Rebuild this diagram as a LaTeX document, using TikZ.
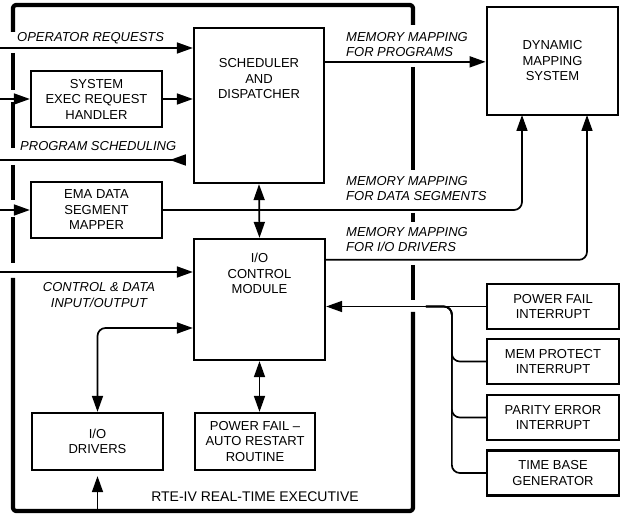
\documentclass[tikz,border=0pt]{standalone}
\usepackage{fontspec}
\setmainfont{Liberation Sans}
\usetikzlibrary{arrows.meta,calc}

\begin{document}
\begin{tikzpicture}[x=1pt,y=-1pt,
  font=\fontsize{13}{15.5}\selectfont,
  box/.style={draw, line width=2.3pt, inner sep=0pt, align=center},
  boxtext/.style={align=center, inner sep=0pt},
  flowlabel/.style={font=\fontsize{13}{15.5}\selectfont\itshape, align=left, inner sep=0pt, anchor=west},
  link/.style={line width=1.7pt},
  arr/.style={link, -{Triangle[length=16pt,width=11pt]}},
  arrtwo/.style={link, {Triangle[length=16pt,width=11pt]}-{Triangle[length=16pt,width=11pt]}},
  frame/.style={line width=4.2pt, line cap=butt, line join=round}]

\useasboundingbox (0,0) rectangle (621,518);

% ---- executive frame, broken where the flows cross it ----
\draw[frame, rounded corners=3pt] (13,32) -- (13,5) -- (413,5) -- (413,25);
\draw[frame] (13,53) -- (13,90);
\draw[frame] (13,102) -- (13,148);
\draw[frame] (13,165) -- (13,200);
\draw[frame] (13,217) -- (13,263);
\draw[frame, rounded corners=3pt] (13,278) -- (13,511) -- (413,511) -- (413,312);
\draw[frame] (413,67) -- (413,170);
\draw[frame] (413,213) -- (413,222);
\draw[frame] (413,265) -- (413,300);

% ---- blocks ----
\node[box, minimum width=130pt, minimum height=155pt] (sched) at (259,105.5) {};
\node[boxtext] (schedtext) at (259,79) {SCHEDULER\\AND\\DISPATCHER};

\node[box, minimum width=131pt, minimum height=56pt] (sysexec) at (96.5,99) {SYSTEM\\EXEC REQUEST\\HANDLER};
\node[box, minimum width=131pt, minimum height=56pt] (ema) at (96.5,210) {EMA DATA\\SEGMENT\\MAPPER};

\node[box, minimum width=131pt, minimum height=121pt] (iocm) at (259.5,299.5) {};
\node[boxtext] (iocmtext) at (259.5,273.5) {I/O\\CONTROL\\MODULE};

\node[box, minimum width=131pt, minimum height=57pt] (drivers) at (97.5,441.5) {I/O\\DRIVERS};
\node[box, minimum width=120pt, minimum height=57pt] (pfr) at (255,441.5) {POWER FAIL --\\AUTO RESTART\\ROUTINE};

\node[box, line width=2.8pt, minimum width=131pt, minimum height=108pt] (dyn) at (552.5,61) {DYNAMIC\\MAPPING\\SYSTEM};

\node[box, minimum width=132pt, minimum height=45pt] (pfi) at (553,306.5) {POWER FAIL\\INTERRUPT};
\node[box, minimum width=132pt, minimum height=45pt] (mpi) at (553,361.5) {MEM PROTECT\\INTERRUPT};
\node[box, minimum width=132pt, minimum height=45pt] (pei) at (553,417.5) {PARITY ERROR\\INTERRUPT};
\node[box, minimum width=132pt, minimum height=45pt] (tbg) at (553,473) {TIME BASE\\GENERATOR};

% ---- free ends ----
\coordinate (opin) at (0,48);
\coordinate (sysin) at (0,99);
\coordinate (progout) at (0,160);
\coordinate (emain) at (0,210);
\coordinate (ctrlin) at (0,272);
\coordinate (drvin) at (97.5,511);
\coordinate (dynA) at (522,115);
\coordinate (dynB) at (587,115);

% ---- flows ----
\draw[arr] (opin) -- (opin -| sched.west);
\draw[arr] (sysin) -- (sysexec.west);
\draw[arr] (sysexec.east) -- (sysexec.east -| sched.west);

\coordinate (psend) at ($(progout -| sched.west)+(-10,0)$);
\draw[link] (psend) -- (progout);
\draw[arr] (psend) -- ++(-13,0);

\draw[arr] (emain) -- (ema.west);
\draw[arr, rounded corners=8pt] (ema.east) -| (dynA);

\draw[arr] (ctrlin) -- (ctrlin -| iocm.west);
\draw[arrtwo] (sched.south) -- (iocm.north);
\draw[arrtwo] (iocm.south) -- (iocm.south |- pfr.north);
\draw[arrtwo, rounded corners=8pt] (drivers.north) |- ([yshift=-28.5pt]iocm.west);
\draw[arr, shorten >=5pt] (drvin) -- (drivers.south);

\draw[arr] ($(sched.north east)+(0,35)$) coordinate (mmp) -- (mmp -| dyn.west);
\draw[arr, rounded corners=8pt] ($(iocm.north east)+(0,22)$) -| (dynB);

% interrupt sources share one line into the I/O control module
\draw[arr] (pfi.west) -- (pfi.west -| iocm.east);
\foreach \src in {mpi,pei,tbg}
  \draw[link, rounded corners=8pt] (\src.west) -| ($(pfi.west)+(-34,0)$) -- ($(pfi.west)+(-60,0)$);

% ---- labels ----
\node[flowlabel] (lop) at (17,38) {OPERATOR REQUESTS};
\node[flowlabel] (lps) at (20,146) {PROGRAM SCHEDULING};
\node[flowlabel, align=center, anchor=center] (lctrl) at (99,295) {CONTROL \& DATA\\INPUT/OUTPUT};
\node[flowlabel] (lmp) at (346,44.5) {MEMORY MAPPING\\FOR PROGRAMS};
\node[flowlabel] (lmd) at (346,188.5) {MEMORY MAPPING\\FOR DATA SEGMENTS};
\node[flowlabel] (lmi) at (346,239.5) {MEMORY MAPPING\\FOR I/O DRIVERS};
\node[boxtext, font=\fontsize{14}{16}\selectfont] (rte) at (255,497) {RTE-IV REAL-TIME EXECUTIVE};

\end{tikzpicture}
\end{document}
